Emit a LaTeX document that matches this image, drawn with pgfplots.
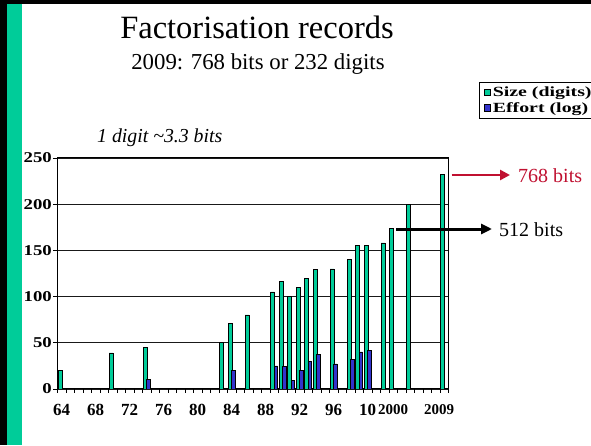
\documentclass[border=0pt]{standalone}
\usepackage{fontspec}
\setmainfont{Liberation Serif}
\usepackage{graphicx}
\usepackage{pgfplots}
\pgfplotsset{compat=1.18}
\usetikzlibrary{arrows.meta}
\definecolor{sizegreen}{RGB}{0,204,153}
\definecolor{effblue}{RGB}{51,51,204}
\definecolor{stripe}{RGB}{0,204,153}
\definecolor{darkred}{RGB}{192,16,48}
\newcommand\ys[1]{\scalebox{1.25}[1]{#1}}
\newcommand\ls[1]{\scalebox{1.42}[1]{#1}}
\begin{document}
\begin{tikzpicture}[x=1pt,y=1pt]
\useasboundingbox (0,0) rectangle (591,445);
\clip (0,0) rectangle (591,445);
\fill[white] (0,0) rectangle (591,445);
\fill[black] (0,0) rectangle (7.3,445);
\fill[black] (0,440.5) rectangle (591,445);
\fill[stripe] (7.3,0) rectangle (21.7,440.5);

\node[anchor=base, inner sep=0, font=\fontsize{32.5}{32.5}\selectfont] at (257,406) {Factorisation records};
\node[anchor=base, inner sep=0, font=\fontsize{22.8}{22.8}\selectfont] at (258,375) {2009: 768 bits or 232 digits};
\node[anchor=base west, inner sep=0, font=\fontsize{19.8}{19.8}\selectfont\itshape] at (97,302.3) {1 digit \textasciitilde3.3 bits};

\begin{axis}[
  at={(67.5,60.7)}, anchor=south west,
  scale only axis, width=391pt, height=231pt,
  xmin=-0.5, xmax=45.5, ymin=0, ymax=250,
  axis line style={black, line width=0.9pt},
  tick align=outside,
  xtick pos=bottom, ytick pos=left,
  major tick length=4pt,
  tick style={black, line width=0.7pt},
  xtick={-0.5,0.5,...,45.5},
  xticklabels={},
  extra x ticks={0,4,8,12,16,20,24,28,32,36,39,44.4},
  extra x tick labels={64,68,72,76,80,84,88,92,96,10,{\fontsize{15}{15}\selectfont 2000},{\fontsize{15}{15}\selectfont 2009}},
  extra x tick style={major tick length=0pt, xticklabel style={yshift=-12pt}},
  xticklabel style={font=\bfseries\fontsize{17}{17}\selectfont},
  ytick={0,50,100,150,200,250},
  yticklabels={\ys{0},\ys{50},\ys{100},\ys{150},\ys{200},\ys{250}},
  yticklabel style={font=\bfseries\fontsize{15}{15}\selectfont, xshift=2pt},
  ymajorgrids, grid style={black!90, line width=0.7pt},
  legend style={at={(1.0793,1.3303)}, anchor=north west, draw=black, line width=0.8pt,
    fill=white, font=\bfseries\fontsize{14}{14}\selectfont, inner xsep=4pt, inner ysep=2.5pt,
    row sep=0.5pt, legend cell align=left},
]
\addlegendimage{legend image code/.code={\draw[fill=sizegreen,draw=black,line width=0.5pt] (0pt,-3.2pt) rectangle (6.5pt,3.2pt);}}
\addlegendentry{\ls{Size (digits)}}
\addlegendimage{legend image code/.code={\draw[fill=effblue,draw=black,line width=0.5pt] (0pt,-3.2pt) rectangle (6.5pt,3.2pt);}}
\addlegendentry{\ls{Effort (log)}}

\addplot[ybar, bar width=3.6pt, bar shift=-1.6pt, fill=sizegreen, draw=black, line width=0.5pt, forget plot]
coordinates {(0,20) (6,39) (10,45) (19,50) (20,71) (22,80) (25,105) (26,116) (27,100) (28,110)
(29,120) (30,129) (32,130) (34,140) (35,155) (36,155) (38,158) (39,174) (41,200) (45,232)};
\addplot[ybar, bar width=3.6pt, bar shift=1.8pt, fill=effblue, draw=black, line width=0.5pt, forget plot]
coordinates {(10,10) (20,20) (25,25) (26,24) (27,9) (28,20) (29,30) (30,37) (32,27) (34,32) (35,40) (36,42)};
\end{axis}

\draw[darkred, line width=2.7pt, -{Triangle[length=10pt,width=10pt]}] (451.7,270) -- (510,270);
\node[anchor=base west, text=darkred, font=\fontsize{20}{20}\selectfont, inner sep=0] at (518,262) {768 bits};
\draw[black, line width=3pt, -{Triangle[length=11pt,width=10pt]}] (396,216) -- (492,216);
\node[anchor=base west, font=\fontsize{20}{20}\selectfont, inner sep=0] at (499,209) {512 bits};
\end{tikzpicture}
\end{document}
